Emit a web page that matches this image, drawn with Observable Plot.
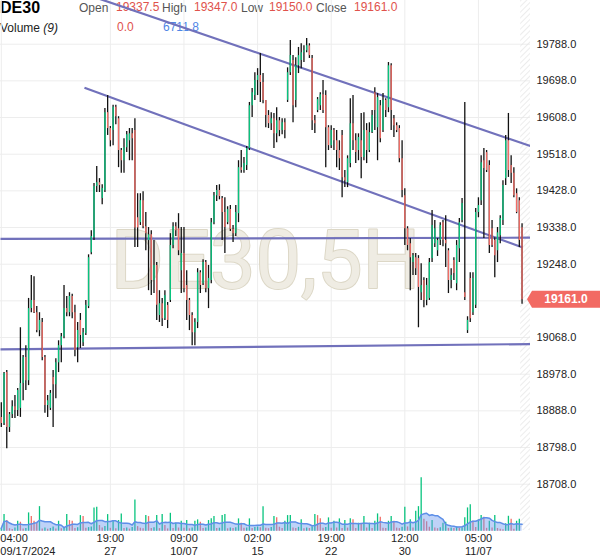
<!DOCTYPE html>
<html><head><meta charset="utf-8">
<script src="https://cdn.jsdelivr.net/npm/d3@7"></script>
<script src="https://cdn.jsdelivr.net/npm/@observablehq/plot@0.6"></script>
<style>
body{margin:0;background:#fff;}
#wrap{position:relative;width:600px;height:558px;overflow:hidden;background:#fff;font-family:Arial,"Liberation Sans",sans-serif;}
#wrap svg.layer{position:absolute;left:0;top:0;}
.hdr{position:absolute;font-size:12px;line-height:12px;white-space:nowrap;}
</style></head><body>
<svg width="0" height="0" style="position:absolute"><defs>
<pattern id="hatch" width="4" height="4" patternUnits="userSpaceOnUse" patternTransform="rotate(45)">
<line x1="0" y1="0" x2="0" y2="4" stroke="#e4e4e4" stroke-width="1.4"/></pattern></defs></svg>
<div id="wrap">
  <div class="hdr" style="left:0;top:0;font-size:16px;line-height:16px;font-weight:bold;color:#000">DE30</div>
  <div class="hdr" style="left:79px;top:2px;color:#555">Open</div>
  <div class="hdr" style="left:116px;top:1px;color:#e0524c" id="vOpen"></div>
  <div class="hdr" style="left:162px;top:2px;color:#555">High</div>
  <div class="hdr" style="left:194px;top:1px;color:#e0524c" id="vHigh"></div>
  <div class="hdr" style="left:241px;top:2px;color:#555">Low</div>
  <div class="hdr" style="left:269px;top:1px;color:#e0524c" id="vLow"></div>
  <div class="hdr" style="left:316px;top:2px;color:#555">Close</div>
  <div class="hdr" style="left:354px;top:1px;color:#e0524c" id="vClose"></div>
  <div class="hdr" style="left:0;top:22px;color:#222">Volume <i>(9)</i></div>
  <div class="hdr" style="left:117px;top:21px;color:#e0524c" id="vVol"></div>
  <div class="hdr" style="left:163px;top:21px;color:#4f86e6" id="vMa"></div>
</div>
<script>
// ---------- data (5H bars, DE30) ----------
const open = [
18872,18857,18982,18847,18879,18898,18889,18894,18955,19019,
18962,19139,19159,19129,19085,19105,19019,18901,18894,18970,
18952,19006,19048,19070,19139,19129,19169,19129,19043,19110,
19055,19078,19144,19276,19313,19439,19448,19409,19429,19620,
19581,19576,19633,19605,19527,19502,19534,19551,19568,19576,
19362,19350,19404,19340,19306,19320,19208,19245,19122,19151,
19114,19147,19159,19294,19340,19335,19232,19274,19196,19159,
19122,19080,19105,19227,19200,19252,19188,19208,19350,19416,
19429,19409,19375,19350,19382,19333,19323,19372,19485,19478,
19490,19532,19637,19662,19699,19711,19694,19650,19613,19593,
19605,19568,19600,19576,19595,19650,19718,19748,19650,19735,
19748,19767,19772,19784,19753,19600,19625,19637,19664,19662,
19583,19539,19576,19551,19527,19564,19460,19448,19495,19593,
19551,19527,19551,19510,19576,19527,19571,19669,19583,19637,
19576,19650,19632,19735,19605,19588,19581,19507,19416,19335,
19298,19252,19264,19262,19178,19208,19159,19164,19262,19298,
19281,19306,19350,19306,19281,19208,19257,19200,19286,19355,
19178,19085,19213,19129,19147,19375,19404,19502,19522,19490,
19335,19306,19281,19318,19355,19458,19551,19490,19471,19421,
19404,19337.5];
const high = [
18908,18982,18987,18884,18913,18926,18943,19092,19024,19048,
19164,19220,19217,19144,19129,19115,19024,18926,18938,18987,
19016,19060,19078,19196,19169,19178,19174,19147,19105,19127,
19090,19159,19271,19330,19446,19488,19458,19443,19630,19662,
19586,19638,19638,19610,19532,19556,19574,19581,19581,19605,
19421,19421,19426,19375,19338,19330,19306,19252,19183,19164,
19183,19154,19323,19350,19350,19372,19338,19338,19232,19164,
19129,19114,19237,19232,19259,19257,19245,19360,19424,19441,
19443,19414,19411,19389,19392,19343,19392,19502,19527,19510,
19537,19645,19679,19718,19728,19765,19716,19650,19625,19620,
19618,19632,19608,19605,19605,19730,19797,19760,19755,19780,
19789,19784,19802,19789,19760,19613,19657,19669,19699,19674,
19588,19588,19581,19576,19551,19576,19478,19514,19654,19662,
19568,19568,19618,19620,19593,19595,19625,19681,19667,19650,
19667,19654,19743,19740,19613,19595,19588,19551,19433,19340,
19311,19274,19274,19269,19249,19215,19213,19262,19380,19355,
19311,19350,19355,19367,19286,19237,19264,19306,19360,19409,
19645,19119,19227,19227,19385,19411,19514,19532,19527,19502,
19355,19313,19338,19367,19453,19564,19618,19514,19485,19433,
19411,19347];
const low = [
18847,18852,18795,18835,18869,18869,18874,18872,18913,18938,
18950,19129,19127,19080,19070,19011,18882,18872,18889,18847,
18918,18982,19006,19065,19119,19119,19114,19021,19006,19041,
19046,19073,19139,19271,19306,19424,19424,19394,19424,19564,
19536,19539,19590,19485,19471,19471,19522,19502,19502,19289,
19289,19343,19335,19281,19183,19171,19176,19110,19105,19095,
19110,19090,19154,19286,19316,19269,19176,19178,19110,19085,
19048,19048,19090,19176,19196,19178,19139,19200,19345,19402,
19406,19306,19274,19345,19328,19301,19316,19350,19471,19471,
19478,19527,19608,19650,19662,19645,19642,19583,19581,19576,
19532,19546,19561,19566,19556,19645,19711,19595,19632,19716,
19728,19743,19767,19753,19576,19569,19620,19625,19618,19485,
19527,19532,19527,19485,19478,19411,19436,19436,19485,19527,
19495,19502,19458,19502,19495,19522,19569,19576,19502,19546,
19571,19608,19620,19576,19559,19571,19497,19411,19294,19281,
19183,19220,19220,19092,19159,19141,19146,19159,19252,19289,
19267,19294,19291,19240,19176,19188,19208,19183,19252,19350,
19159,19078,19105,19122,19139,19362,19392,19311,19473,19274,
19289,19215,19252,19298,19343,19441,19461,19446,19411,19372,
19289,19150];
const close = [
18857,18980,18847,18879,18898,18889,18938,18955,19019,18962,
19139,19159,19129,19085,19110,19019,18901,18913,18931,18952,
19006,19048,19070,19139,19129,19169,19129,19036,19085,19073,
19080,19147,19264,19316,19439,19448,19441,19434,19620,19581,
19551,19633,19610,19527,19502,19534,19566,19568,19556,19337,
19337,19404,19340,19323,19320,19208,19245,19147,19151,19114,
19171,19110,19294,19340,19330,19281,19274,19188,19159,19122,
19080,19105,19227,19196,19252,19188,19213,19350,19416,19429,
19414,19375,19338,19382,19333,19323,19375,19485,19478,19495,
19532,19637,19669,19699,19711,19694,19650,19613,19593,19605,
19568,19600,19576,19595,19576,19718,19760,19637,19735,19760,
19767,19772,19784,19760,19600,19593,19652,19664,19625,19583,
19539,19576,19551,19527,19507,19460,19453,19507,19593,19551,
19522,19559,19510,19576,19527,19571,19613,19625,19657,19556,
19650,19625,19735,19625,19588,19576,19507,19429,19335,19294,
19264,19269,19237,19191,19196,19159,19196,19252,19343,19335,
19306,19343,19306,19298,19208,19220,19225,19294,19350,19397,
19166,19110,19114,19213,19375,19392,19497,19483,19478,19294,
19294,19269,19325,19360,19441,19551,19478,19471,19416,19375,
19306,19161];
const volume = [
3000,16700,10700,2500,1800,3200,10000,9000,2100,2600,
18400,14700,10000,7700,24700,2300,3100,1900,2800,4100,
2200,10000,2500,3000,16700,10700,10000,2600,3400,15700,
14700,2900,3600,4200,23400,24000,5700,3100,4800,16700,
2900,10700,2400,10700,17400,2700,3300,2100,3800,31500,
4600,3000,2500,15700,14700,2800,3500,15700,2600,16700,
5700,2300,18000,2700,8000,3200,10000,2900,10700,2400,
3100,10000,11400,9000,2800,3300,10700,12400,14700,2600,
3000,15700,16700,2400,3100,2700,3500,12400,8000,2900,
3300,12400,2600,3800,4200,3400,24700,3000,2500,3600,
14700,13400,4000,2800,10000,15700,15700,3200,2700,3900,
11400,2500,3100,2700,4400,16700,15700,12400,3000,3600,
13400,2900,10000,3300,12400,2700,10700,3100,12400,11400,
2600,8000,6700,14700,3200,8000,2800,10000,17400,14000,
3000,2700,10000,14700,10000,3100,2600,3900,24000,4300,
11400,3200,20000,24700,53700,12000,9500,4000,10700,3100,
2500,3400,8000,9000,2800,3300,2600,4100,3000,3500,
13400,23400,26700,10000,3600,11400,15700,14000,2900,10000,
3300,15700,2700,2000,1500,7400,15000,12000,2000,10000,
12000,0];

const tickIndex  = [0, 40, 67, 94, 121, 148, 175];
const tickLabels = ["04:00\n09/17/2024", "19:00\n27", "09:00\n10/07", "02:00\n15", "19:00\n22", "12:00\n30", "05:00\n11/07"];
const priceTicks = [18708,18798,18888,18978,19068,19158,19248,19338,19428,19518,19608,19698,19788];

// drawn trend lines (bar index, price)
const lineStartIndex = [30, 30.5, -0.3, -0.3];
const lineStartPrice = [19913, 19681, 19310, 19039];
const lineEndIndex   = [194.1, 191.2, 194.1, 194.1];
const lineEndPrice   = [19538, 19289, 19313, 19052];

const headerVolume = "0.0";
const headerVolumeMA = "6711.8";
const symbolText = "DE30,5H";

// ---------- build ----------
const GREEN = "#08c47e", RED = "#f26d66", LINE = "#7171bb";
const last = close.length - 1;
const bars = open.map((o, i) => ({i, o, h: high[i], l: low[i], c: close[i]}));
const vols = volume.map((v, i) => ({i, v, up: i === 0 || v >= volume[i - 1]}));
const segs = lineStartIndex.map((s, k) => ({x1: s, y1: lineStartPrice[k], x2: lineEndIndex[k], y2: lineEndPrice[k]}));
const ticks = tickIndex.map((i, k) => ({i, label: tickLabels[k]}));
const X_DOMAIN = [-0.3, 194.1];
const fmt = d3.format(".1f");
const FONT = "Arial, 'Liberation Sans', sans-serif";
// the tick label hidden behind the last-price tag
const labelTicks = priceTicks.filter(t => Math.abs(t - close[last]) > 30);

document.getElementById("vOpen").textContent = fmt(open[last]);
document.getElementById("vHigh").textContent = fmt(high[last]);
document.getElementById("vLow").textContent = fmt(low[last]);
document.getElementById("vClose").textContent = fmt(close[last]);
document.getElementById("vVol").textContent = headerVolume;
document.getElementById("vMa").textContent = headerVolumeMA;

const pricePlot = Plot.plot({
  width: 600, height: 558,
  marginLeft: 0, marginRight: 70, marginTop: 0, marginBottom: 28,
  style: {background: "transparent", fontFamily: FONT, fontSize: "11px", color: "#222"},
  x: {type: "linear", domain: X_DOMAIN, axis: null},
  y: {domain: [18708, 19788], range: [483.7, 43.7], axis: null},
  marks: [
    Plot.gridX(tickIndex, {stroke: "#ededed", strokeOpacity: 1}),
    Plot.gridY(priceTicks, {stroke: "#ededed", strokeOpacity: 1}),
    Plot.rect([last - 0.5], {x1: d => d, x2: X_DOMAIN[1], fill: "url(#hatch)"}),
    Plot.text([symbolText], {text: d => d, frameAnchor: "middle", dy: -3, fontFamily: "Roboto", fontSize: 81,
      fill: "#efece3", stroke: "#dcd7c6", strokeWidth: 2}),
    Plot.link(segs, {x1: "x1", y1: "y1", x2: "x2", y2: "y2", stroke: LINE, strokeWidth: 2.2, clip: true}),
    Plot.ruleX(bars, {x: "i", y1: "l", y2: "h", stroke: "#111", strokeWidth: 1.3}),
    Plot.ruleX(bars, {x: "i", y1: "o", y2: "c", stroke: d => d.c >= d.o ? GREEN : RED, strokeWidth: 1.3}),
    Plot.axisY(labelTicks, {anchor: "right", tickSize: 0, tickPadding: 6, tickFormat: fmt, fontSize: 11, color: "#222", label: null})
  ]
});
pricePlot.classList.add("layer");

// last-price tag, placed with the y scale
const yy = pricePlot.scale("y").apply(close[last]);
const psel = d3.select(pricePlot);
psel.append("path")
  .attr("d", `M527,${yy} L532,${yy - 8.5} L600,${yy - 8.5} L600,${yy + 8.5} L532,${yy + 8.5} Z`)
  .attr("fill", "#f26a63");
psel.append("text").attr("x", 566).attr("y", yy).attr("dy", "0.36em")
  .attr("text-anchor", "middle").attr("fill", "#fff").attr("font-weight", "bold")
  .attr("font-size", 12).attr("font-family", FONT).text(fmt(close[last]));

const volPlot = Plot.plot({
  width: 600, height: 558,
  marginLeft: 0, marginRight: 70, marginTop: 0, marginBottom: 28,
  style: {background: "transparent", fontFamily: FONT, fontSize: "11px", color: "#222"},
  x: {type: "linear", domain: X_DOMAIN, axis: null},
  y: {domain: [0, 54000], range: [530.7, 477], axis: null},
  marks: [
    Plot.ruleX(vols, {x: "i", y1: 0, y2: "v", stroke: d => d.up ? GREEN : RED, strokeWidth: 1.3}),
    Plot.areaY(vols, Plot.windowY({k: 9, anchor: "end", reduce: "mean"}, {x: "i", y: "v", fill: "#6f9cf0", fillOpacity: 0.45})),
    Plot.lineY(vols, Plot.windowY({k: 9, anchor: "end", reduce: "mean"}, {x: "i", y: "v", stroke: "#5e8fe8", strokeWidth: 1.5})),
    Plot.text(ticks.slice(0, 1), {x: "i", text: "label", frameAnchor: "bottom", lineAnchor: "top", dy: 2, dx: -1,
      textAnchor: "start", fontSize: 11, fill: "#222", lineHeight: 1.2}),
    Plot.text(ticks.slice(1), {x: "i", text: "label", frameAnchor: "bottom", lineAnchor: "top", dy: 2,
      textAnchor: "middle", fontSize: 11, fill: "#222", lineHeight: 1.2})
  ]
});
volPlot.classList.add("layer");

const wrap = document.getElementById("wrap");
wrap.appendChild(pricePlot);
wrap.appendChild(volPlot);
</script>
</body></html>
